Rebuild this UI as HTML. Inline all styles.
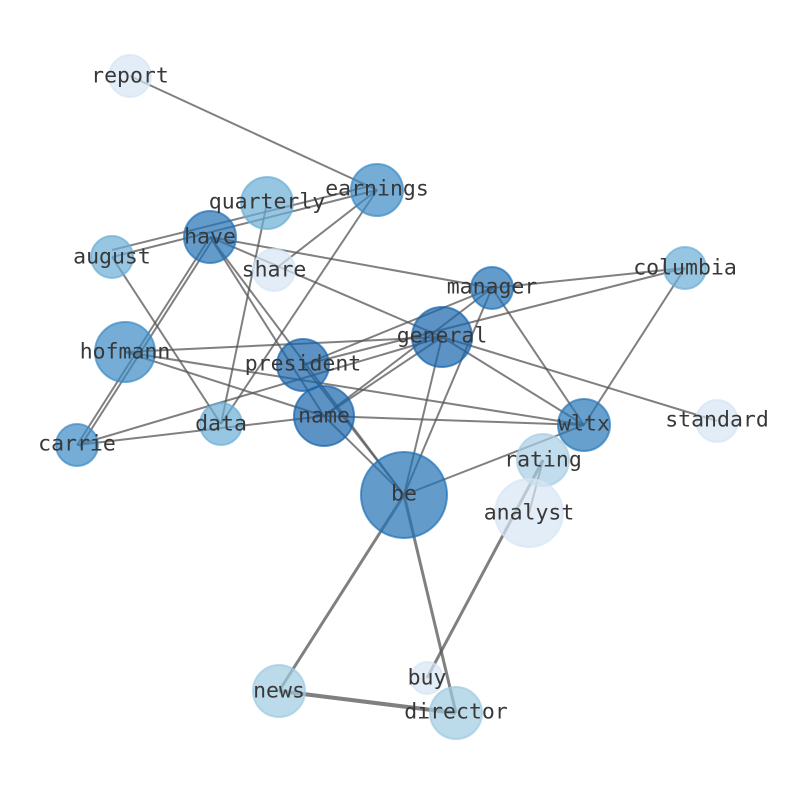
<!DOCTYPE html>
<html><head><meta charset="utf-8"><style>
html,body{margin:0;padding:0;background:#fff;}
svg{display:block;}
text{font-family:"DejaVu Sans Mono","Liberation Mono",monospace;font-size:21.5px;fill:#383838;text-anchor:middle;dominant-baseline:central;}
</style></head><body>
<svg width="794" height="790" viewBox="0 0 794 790">
<g stroke="#555" stroke-opacity="0.75" stroke-width="2" fill="none">
<line x1="130" y1="76" x2="377" y2="190"/>
<line x1="112" y1="257" x2="377" y2="190"/>
<line x1="112" y1="250" x2="370" y2="186"/>
<line x1="377" y1="190" x2="274" y2="270"/>
<line x1="377" y1="190" x2="221" y2="424"/>
<line x1="267" y1="203" x2="221" y2="424"/>
<line x1="77" y1="445" x2="210" y2="237"/>
<line x1="80" y1="447" x2="213" y2="239"/>
<line x1="210" y1="237" x2="492" y2="288"/>
<line x1="210" y1="237" x2="442" y2="337"/>
<line x1="210" y1="237" x2="324" y2="416"/>
<line x1="210" y1="237" x2="404" y2="495"/>
<line x1="112" y1="257" x2="221" y2="424"/>
<line x1="125" y1="352" x2="442" y2="337"/>
<line x1="125" y1="352" x2="584" y2="425"/>
<line x1="125" y1="352" x2="324" y2="416"/>
<line x1="303" y1="365" x2="492" y2="288"/>
<line x1="303" y1="365" x2="685" y2="268"/>
<line x1="303" y1="365" x2="404" y2="495"/>
<line x1="77" y1="445" x2="442" y2="337"/>
<line x1="77" y1="445" x2="324" y2="416"/>
<line x1="324" y1="416" x2="492" y2="288"/>
<line x1="324" y1="416" x2="442" y2="337"/>
<line x1="324" y1="416" x2="584" y2="425"/>
<line x1="324" y1="416" x2="404" y2="495"/>
<line x1="492" y1="288" x2="685" y2="268"/>
<line x1="492" y1="288" x2="584" y2="425"/>
<line x1="492" y1="288" x2="404" y2="495"/>
<line x1="442" y1="337" x2="584" y2="425"/>
<line x1="442" y1="337" x2="717" y2="421"/>
<line x1="442" y1="337" x2="404" y2="495"/>
<line x1="685" y1="268" x2="584" y2="425"/>
<line x1="404" y1="495" x2="584" y2="425"/>
<line x1="543" y1="460" x2="529" y2="513"/>
<line x1="404" y1="495" x2="279" y2="691" stroke-width="3"/>
<line x1="404" y1="495" x2="456" y2="713" stroke-width="3"/>
<line x1="543" y1="460" x2="427" y2="678" stroke-width="3"/>
<line x1="279" y1="691" x2="456" y2="713" stroke-width="4"/>
</g>
<g fill-opacity="0.7" stroke-opacity="0.7" stroke-width="2">
<circle cx="130" cy="76" r="21" fill="#d6e6f4" stroke="#d6e6f4"/>
<circle cx="377" cy="190" r="26" fill="#3a8ac4" stroke="#3a8ac4"/>
<circle cx="267" cy="203" r="26" fill="#6baed6" stroke="#6baed6"/>
<circle cx="210" cy="237" r="26" fill="#2171b5" stroke="#2171b5"/>
<circle cx="112" cy="257" r="21" fill="#6baed6" stroke="#6baed6"/>
<circle cx="274" cy="270" r="21" fill="#d6e6f4" stroke="#d6e6f4"/>
<circle cx="492" cy="288" r="21" fill="#2171b5" stroke="#2171b5"/>
<circle cx="685" cy="268" r="21" fill="#6baed6" stroke="#6baed6"/>
<circle cx="442" cy="337" r="30" fill="#1764ab" stroke="#1764ab"/>
<circle cx="125" cy="352" r="30" fill="#3a8ac4" stroke="#3a8ac4"/>
<circle cx="303" cy="365" r="26" fill="#1764ab" stroke="#1764ab"/>
<circle cx="324" cy="416" r="30" fill="#1764ab" stroke="#1764ab"/>
<circle cx="221" cy="424" r="21" fill="#6baed6" stroke="#6baed6"/>
<circle cx="77" cy="445" r="21" fill="#3a8ac4" stroke="#3a8ac4"/>
<circle cx="584" cy="425" r="26" fill="#2878b8" stroke="#2878b8"/>
<circle cx="717" cy="421" r="21" fill="#d6e6f4" stroke="#d6e6f4"/>
<circle cx="543" cy="460" r="26" fill="#a6cde4" stroke="#a6cde4"/>
<circle cx="404" cy="495" r="43" fill="#2171b5" stroke="#2171b5"/>
<circle cx="529" cy="513" r="34" fill="#d6e6f4" stroke="#d6e6f4"/>
<circle cx="427" cy="678" r="16" fill="#d6e6f4" stroke="#d6e6f4"/>
<circle cx="279" cy="691" r="26" fill="#9ecae1" stroke="#9ecae1"/>
<circle cx="456" cy="713" r="26" fill="#9ecae1" stroke="#9ecae1"/>
</g>
<g>
<text x="130" y="76">report</text>
<text x="377" y="189">earnings</text>
<text x="267" y="202">quarterly</text>
<text x="210" y="237">have</text>
<text x="112" y="257">august</text>
<text x="274" y="270">share</text>
<text x="492" y="287">manager</text>
<text x="685" y="268">columbia</text>
<text x="442" y="336">general</text>
<text x="125" y="352">hofmann</text>
<text x="303" y="364">president</text>
<text x="324" y="416">name</text>
<text x="221" y="424">data</text>
<text x="77" y="444">carrie</text>
<text x="584" y="424">wltx</text>
<text x="717" y="420">standard</text>
<text x="543" y="460">rating</text>
<text x="404" y="494">be</text>
<text x="529" y="513">analyst</text>
<text x="427" y="678">buy</text>
<text x="279" y="691">news</text>
<text x="456" y="712">director</text>
</g>
</svg>
</body></html>
